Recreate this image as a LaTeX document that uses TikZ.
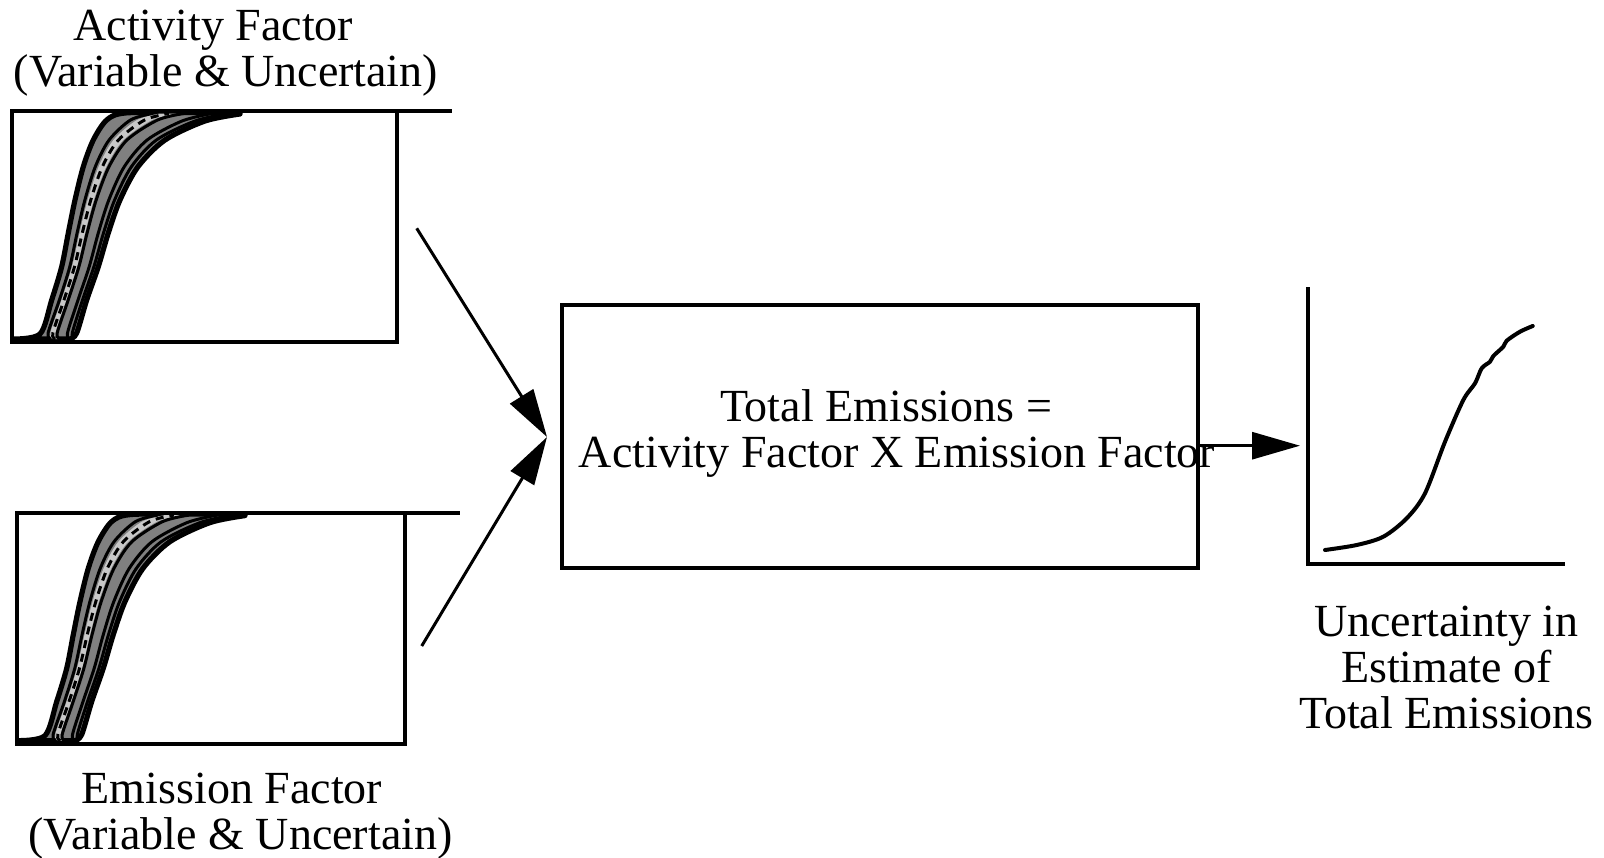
\documentclass[tikz,border=0pt]{standalone}
\usepackage{fontspec}
\setmainfont{Liberation Serif}
\usetikzlibrary{arrows.meta}
\definecolor{bandgray}{HTML}{808080}
\definecolor{stripgray}{HTML}{C8C8C8}

\begin{document}
\begin{tikzpicture}[
  x=0.5pt, y=-0.5pt,
  % Box styles
  frame/.style={draw=black, line width=2pt},
  plotbox/.style={frame, rectangle, minimum height=115.5pt, inner sep=0pt, outer sep=0pt},
  sumbox/.style={frame, rectangle, minimum width=318.2pt, minimum height=131.3pt, inner sep=0pt, outer sep=0pt},
  % Text style
  label/.style={font=\fontsize{23}{23}\selectfont, align=center, inner sep=0pt},
  % Curve styles
  band/.style={fill=bandgray, draw=black, line width=2.6pt, line join=round},
  strand/.style={draw=black, line width=1.5pt},
  strip/.style={fill=stripgray},
  median/.style={draw=black, line width=1.5pt, dash pattern=on 4pt off 3pt},
  cdf/.style={draw=black, line width=2pt, line join=round, line cap=round},
  % Edge style
  flow/.style={-{Triangle[length=24pt,width=13.5pt]}, line width=1.5pt},
]

  \useasboundingbox (0,0) rectangle (1604,857);

  % Input distributions: same band of curves in both frames
  \foreach \nm/\dx/\dy/\w in {af/0/0/385, ef/5/401.6/388} {
    \begin{scope}[shift={(\dx,\dy)}]
      % outer envelope
      \path[band] plot[smooth] coordinates {(13,339) (40,334) (51.7,300) (61.7,266.7) (68.3,233) (75,200) (83.3,166.7) (93.3,140) (106.7,120) (125,113) (180,112.5) (240,112.5)}
        -- plot[smooth] coordinates {(240,114) (205,121) (165,140) (138,166.7) (120,200) (108.3,233) (98.3,266.7) (86.7,300) (76.7,333) (70,339)} -- cycle;
      % light inner strip with dashed middle curve
      \path[strip] plot[smooth] coordinates {(53,339) (50.3,333) (61.5,300) (72,266.7) (79.5,233) (87.6,200) (98.6,166.7) (113.4,140) (137,120) (160,113.5)}
        -- plot[smooth] coordinates {(177.5,113.5) (152.2,120) (123.4,140) (106.3,166.7) (93.9,200) (85.1,233) (77.1,266.7) (66.4,300) (55.4,333) (58,339)} -- cycle;
      \draw[median] plot[smooth] coordinates {(55.5,339) (52.8,333) (64,300) (74.5,266.7) (82.3,233) (90.8,200) (102.4,166.7) (118.4,140) (144.6,120) (168.8,113.5)};
      % single realisations
      \draw[strand] plot[smooth] coordinates {(51,339) (48.1,333) (59.4,300) (69.8,266.7) (77.1,233) (84.9,200) (95.3,166.7) (109.1,140) (130.5,120) (152.5,113.5)};
      \draw[strand] plot[smooth] coordinates {(60,339) (57.2,333) (68.2,300) (78.9,266.7) (87.1,233) (96.2,200) (109,166.7) (127,140) (157.6,120) (183.8,113.5)};
      \draw[strand] plot[smooth] coordinates {(70,339) (67.5,333) (78,300) (89.2,266.7) (98.3,233) (108.8,200) (124.3,166.7) (147.1,140) (182,121) (212,113.5)};
      \draw[strand] plot[smooth] coordinates {(74,339) (72.3,333) (82.5,300) (93.9,266.7) (103.5,233) (114.6,200) (131.4,166.7) (156.4,140) (195,121) (228,113.5)};
      % frame
      \node[plotbox, minimum width=\w*0.5pt] (\nm-box) at (11.7+\w/2, 226.7) {};
      \draw[frame] (\nm-box.north east) -- ++(55,0);
    \end{scope}
  }

  % Labels
  \node[label, anchor=north] (af-label) at (226,10) {Activity Factor\hspace*{12.7pt}\\(Variable \& Uncertain)};
  \node[label, anchor=north] (ef-label) at (240.5,773) {Emission Factor\hspace*{8.5pt}\\(Variable \& Uncertain)};

  % Central calculation
  \node[sumbox] (total) at (879.9,436.4) {};
  \node[label, anchor=north] (formula) at (897,389) {Total Emissions =\hspace*{11pt}\\Activity Factor X Emission Factor};

  \coordinate (meet) at (547,437);
  \coordinate (af-out) at (416.7,228.3);
  \coordinate (ef-out) at (421.7,646);
  \draw[flow] (af-out) -- (meet);
  \draw[flow] (ef-out) -- (meet);

  % Result distribution
  \coordinate (origin) at (1307.7,564);
  \coordinate (y-top) at (1307.7,287);
  \coordinate (x-end) at (1565,564);
  \coordinate (res-in) at (1300,445.7);
  \draw[frame] (y-top) -- (origin) -- (x-end);
  \draw[flow] (total.east |- res-in) -- (res-in);
  \draw[cdf] plot[smooth] coordinates {(1325,550) (1356.7,545) (1383.3,536.7) (1406.7,518.3) (1425,493.3) (1445,441.7) (1463.3,400) (1475,383.3) (1481.7,368.3) (1490,361.7) (1493.3,356) (1503.3,346.7) (1506.7,340.7) (1520,331.7) (1532.7,326)};
  \node[label, anchor=north] (res-label) at (1446.5,606) {Uncertainty in\\Estimate of\hspace*{5.6pt}\\Total Emissions};

\end{tikzpicture}
\end{document}
